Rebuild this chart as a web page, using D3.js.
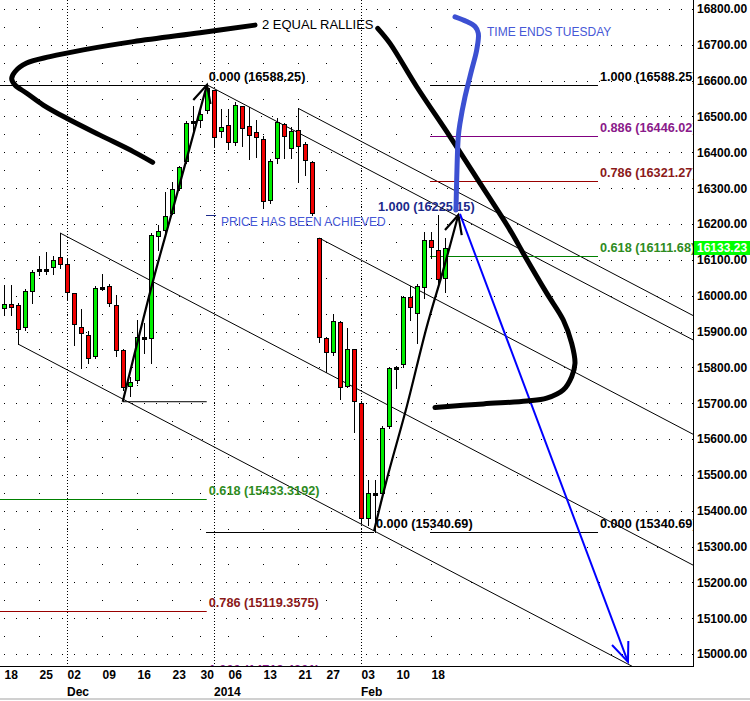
<!DOCTYPE html>
<html><head><meta charset="utf-8">
<script src="https://cdn.jsdelivr.net/npm/d3@7"></script>
<style>
html,body{margin:0;padding:0;background:#fff;}
svg{display:block;}
text{font-family:"Liberation Sans",Arial,sans-serif;}
</style></head><body>
<svg id="c" width="750" height="701"></svg>
<script>
// ---------------- DATA ----------------
const dates = [
 "2013-11-18","2013-11-19","2013-11-20","2013-11-21","2013-11-22","2013-11-25","2013-11-26","2013-11-27","2013-11-29",
 "2013-12-02","2013-12-03","2013-12-04","2013-12-05","2013-12-06","2013-12-09","2013-12-10","2013-12-11","2013-12-12","2013-12-13",
 "2013-12-16","2013-12-17","2013-12-18","2013-12-19","2013-12-20","2013-12-23","2013-12-24","2013-12-26","2013-12-27","2013-12-30","2013-12-31",
 "2014-01-02","2014-01-03","2014-01-06","2014-01-07","2014-01-08","2014-01-09","2014-01-10","2014-01-13","2014-01-14","2014-01-15","2014-01-16","2014-01-17",
 "2014-01-21","2014-01-22","2014-01-23","2014-01-24","2014-01-27","2014-01-28","2014-01-29","2014-01-30","2014-01-31",
 "2014-02-03","2014-02-04","2014-02-05","2014-02-06","2014-02-07","2014-02-10","2014-02-11","2014-02-12","2014-02-13","2014-02-14",
 "2014-02-18","2014-02-19","2014-02-20"];
const opens = [15965,15976,15974,15912,16012,16073,16075,16080,16107,
 16087,16008,15912,15889,15831,16021,16027,15974,15848,15749,
 15764,15885,15881,16167,16183,16232,16301,16376,16487,16490,16518,
 16574,16460,16475,16430,16528,16473,16458,16436,16267,16383,16479,16411,
 16462,16423,16372,16161,15881,15843,15927,15748,15850,
 15700,15379,15445,15448,15635,15798,15808,15997,15951,16023,
 16155,16127,16050];
const highs = [16030,16030,15980,16020,16072,16111,16121,16111,16175,
 16101,16008,15962,15901,16026,16060,16033,16002,15850,15774,
 15932,15924,16176,16197,16290,16318,16362,16488,16529,16520,16588.25,
 16574,16520,16520,16540,16530,16527,16490,16445,16380,16495,16482,16470,
 16523,16430,16375,16161,15885,15949,15930,15909,15852,
 15705,15486,15486,15635,15800,15805,16000,16027,16032,16179,
 16179,16225.15,16160];
const lows = [15946,15946,15865,15905,15980,16057,16060,16060,16078,
 15988,15862,15797,15813,15825,16016,15971,15832,15738,15720,
 15755,15841,15813,16127,16175,16228,16295,16370,16458,16470,16510,
 16418,16442,16408,16420,16418,16382,16388,16244,16260,16370,16385,16385,
 16318,16337,16225,15870,15788,15835,15713,15745,15620,
 15365,15360,15340.69,15443,15630,15741,15800,15932,15867,15993,
 16104,16025,16011];
const closes = [15978,15968,15906,16012,16065,16075,16073,16099,16088,
 16011,15920,15895,15826,16021,16025,15979,15848,15744,15759,
 15885,15881,16169,16180,16222,16297,16358,16483,16481,16507,16579,
 16444,16470,16429,16533,16467,16447,16442,16264,16376,16485,16446,16460,
 16418,16379,16230,15885,15842,15930,15744,15850,15706,
 15379,15448,15450,15630,15797,15802,15997,15967,16027,16155,
 16135,16046,16133.23];

const yTicks = d3.range(15000, 16801, 100);
const tickDates = ["2013-11-18","2013-11-25","2013-12-02","2013-12-09","2013-12-16","2013-12-23","2013-12-30",
 "2014-01-06","2014-01-13","2014-01-21","2014-01-27","2014-02-03","2014-02-10","2014-02-18"];
const tickLabels = ["18","25","02","09","16","23","30","06","13","21","27","03","10","18"];
const monthDates = ["2013-12-02","2014-01-02","2014-02-03"];
const monthLabels = ["Dec","2014","Feb"];
const lastPrice = 16133.23;

// Fibonacci tools
const fibALevels = [16588.25, 15433.3192, 15119.3575, 14719.4301];
const fibALabels = ["0.000 (16588.25)","0.618 (15433.3192)","0.786 (15119.3575)","1.000 (14719.4301)"];
const fibAColors = ["#000000","#2e8b1e","#8b1a1a","#8a1a8a"];
const fibALineColors = ["#000000","#008000","#990000","#800080"];
const fibBLevels = [16588.25, 16446.02, 16321.27, 16111.68, 15340.69];
const fibBLabels = ["1.000 (16588.25)","0.886 (16446.02)","0.786 (16321.27)","0.618 (16111.68)","0.000 (15340.69)"];
const fibBColors = ["#000000","#8a1a8a","#8b1a1a","#2e8b1e","#000000"];
const fibBLineColors = ["#000000","#800080","#990000","#008000","#000000"];
const fibCLevels = [15340.69, 16225.15];
const fibCLabels = ["0.000 (15340.69)","1.000 (16225.15)"];

// Channel lines: [start index, start price], slope in points per trading day
const channelStarts = [[29,16588.25],[42,16523],[45,16161],[8,16175],[2,15865]];
const channelSlope = -10.25;
const channelEnd = 99;

// Hand-drawn annotations, in [trading-day index, price]
const leftCurve = [[21.24,16372],[18.47,16402],[13.71,16448],[8.96,16495],[5.61,16532],[3.24,16565],[1.57,16588],[1.1,16605],[1.57,16625],[3.24,16649],[6.57,16667],[11.33,16686],[18.47,16709],[28,16734],[35.86,16755]];
const rightCurve = [[53.39,16746],[55.14,16704],[58.96,16583],[63.71,16444],[68,16314],[72.29,16183],[74.19,16118],[77.53,16007],[79.9,15932],[81.1,15867],[81.57,15811],[81.1,15774],[79.9,15737],[77.53,15714],[74.67,15706],[68.47,15698],[61.57,15688]];
const blueCurve = [[64.43,16778],[66.1,16765],[67.29,16751],[67.76,16732],[67.53,16686],[66.81,16630],[65.86,16555],[65.14,16481],[64.9,16444],[64.67,16323],[64.57,16239]];
const rally1 = [[16.96,15704],[21.33,16044],[23.96,16230],[26.57,16416],[29,16588.25]];
const rally1Head = [[27.04,16546],[29,16588.25],[29.5,16535]];
const rally1Base = [[16.96,15704],[28.96,15704]];
const rally2 = [[52.86,15343],[54.67,15486],[57.53,15690],[60.39,15913],[62.76,16072],[64.9,16225.15]];
const rally2Head = [[63,16183],[64.9,16225.15],[65.39,16169]];
const projLine = [[65.14,16228],[89.14,14978]];
const projHead = [[86.86,15025],[89.14,14978],[89.19,15036]];

// ---------------- CHART ----------------
const svg = d3.select("#c");
const plotR = 693, plotB = 666;
const x = d3.scaleLinear().domain([0, 99]).range([4, 697]);
const y = d3.scaleLinear().domain([15000, 16800]).range([654, 9]);
const idx = d => dates.indexOf(d);

svg.append("rect").attr("width",750).attr("height",701).attr("fill","#fff");
svg.append("defs").append("clipPath").attr("id","clip")
  .append("rect").attr("x",0).attr("y",0).attr("width",plotR).attr("height",plotB);

const plot = svg.append("g").attr("clip-path","url(#clip)");

// grid dots
const grid = plot.append("g").attr("fill","#000");
yTicks.forEach(v => {
  const yy = Math.round(y(v));
  d3.range(0, 60).forEach(k => {
    const xx = Math.round(x(0) + k*35/3);
    if (xx < plotR) grid.append("rect").attr("x",xx).attr("y",yy).attr("width",1).attr("height",1);
  });
});
d3.range(15050, 16800, 100).forEach(v => {
  const yy = Math.round(y(v));
  tickDates.forEach(d => grid.append("rect").attr("x",Math.round(x(idx(d)))).attr("y",yy).attr("width",1).attr("height",1));
});
monthDates.forEach(d => {
  const xx = Math.round(x(idx(d)));
  d3.range(0, plotB, 3).forEach(yy => grid.append("rect").attr("x",xx).attr("y",yy).attr("width",1).attr("height",1));
});

// channel lines
plot.append("g").selectAll("line").data(channelStarts).join("line")
  .attr("x1",d=>x(d[0])).attr("y1",d=>y(d[1]))
  .attr("x2",x(channelEnd)).attr("y2",d=>y(d[1] + channelSlope*(channelEnd-d[0])))
  .attr("stroke","#000").attr("stroke-width",1);

// Fib A (left)
const fA = plot.append("g");
fibALevels.forEach((v,k) => {
  const yy = Math.round(y(v)) + 0.5;
  fA.append("line").attr("x1",0).attr("x2",x(28.96)).attr("y1",yy).attr("y2",yy)
    .attr("stroke",fibALineColors[k]).attr("stroke-width",1);
  fA.append("text").attr("x",x(29.25)).attr("y",Math.min(y(v)-4, 673.5))
    .attr("fill",fibAColors[k]).attr("font-size","12.7px").attr("font-weight","bold").text(fibALabels[k]);
});
// Fib C
const fC = plot.append("g");
{
  const yy = Math.round(y(fibCLevels[0])) + 0.5;
  fC.append("line").attr("x1",x(28.86)).attr("x2",x(52.86)).attr("y1",yy).attr("y2",yy).attr("stroke","#000");
  fC.append("text").attr("x",x(53.14)).attr("y",y(fibCLevels[0])-4).attr("fill","#000")
    .attr("font-size","12.7px").attr("font-weight","bold").text(fibCLabels[0]);
  const y1 = Math.round(y(fibCLevels[1])) + 0.5;
  fC.append("line").attr("x1",x(28.86)).attr("x2",x(30.29)).attr("y1",y1).attr("y2",y1).attr("stroke","#1c2a8a");
  fC.append("text").attr("x",x(53.43)).attr("y",y(fibCLevels[1])-4).attr("fill","#1c2a8a")
    .attr("font-size","12.7px").attr("font-weight","bold").text(fibCLabels[1]);
}
// Fib B (right)
const fB = plot.append("g");
fibBLevels.forEach((v,k) => {
  const yy = Math.round(y(v)) + 0.5;
  fB.append("line").attr("x1",x(60.86)).attr("x2",x(84.86)).attr("y1",yy).attr("y2",yy)
    .attr("stroke",fibBLineColors[k]).attr("stroke-width",1);
  fB.append("text").attr("x",x(85.14)).attr("y",y(v)-4)
    .attr("fill",fibBColors[k]).attr("font-size","12.7px").attr("font-weight","bold").text(fibBLabels[k]);
});

// candles
const candles = plot.append("g");
dates.forEach((d,k) => {
  const cx = Math.round(x(k));
  const up = closes[k] >= opens[k];
  candles.append("line").attr("x1",cx+0.5).attr("x2",cx+0.5)
    .attr("y1",Math.round(y(highs[k]))).attr("y2",Math.round(y(lows[k]))+1)
    .attr("stroke","#000").attr("stroke-width",1);
  let top = Math.round(y(Math.max(opens[k],closes[k])));
  let bot = Math.round(y(Math.min(opens[k],closes[k])));
  if (bot - top < 2) { bot = top + 2; }
  candles.append("rect").attr("x",cx-2).attr("y",top).attr("width",5).attr("height",bot-top+1).attr("fill","#000");
  if (bot - top >= 3) {
    candles.append("rect").attr("x",cx-1).attr("y",top+1).attr("width",3).attr("height",bot-top-1)
      .attr("fill", up ? "#00ee00" : "#f00000");
  }
});

// annotations
const line = d3.line().x(d=>x(d[0])).y(d=>y(d[1]));
const smooth = d3.line().x(d=>x(d[0])).y(d=>y(d[1])).curve(d3.curveCatmullRom.alpha(0.5));
const ann = plot.append("g").attr("fill","none");
ann.append("path").attr("d",line(rally1Base)).attr("stroke","#000").attr("stroke-width",1);
ann.append("path").attr("d",smooth(rally1)).attr("stroke","#000").attr("stroke-width",2.2);
ann.append("path").attr("d",line(rally1Head)).attr("stroke","#000").attr("stroke-width",2.2);
ann.append("path").attr("d",smooth(rally2)).attr("stroke","#000").attr("stroke-width",2.2);
ann.append("path").attr("d",line(rally2Head)).attr("stroke","#000").attr("stroke-width",2.2);
ann.append("path").attr("d",line(projLine)).attr("stroke","#0000ff").attr("stroke-width",2);
ann.append("path").attr("d",line(projHead)).attr("stroke","#0000ff").attr("stroke-width",2);
ann.append("path").attr("d",smooth(leftCurve)).attr("stroke","#000").attr("stroke-width",5).attr("stroke-linecap","round");
ann.append("path").attr("d",smooth(rightCurve)).attr("stroke","#000").attr("stroke-width",5).attr("stroke-linecap","round");
ann.append("path").attr("d",smooth(blueCurve)).attr("stroke","#3c50d2").attr("stroke-width",5).attr("stroke-linecap","round");

// annotation texts
plot.append("text").attr("x",262).attr("y",28.7).attr("font-size","13px").attr("fill","#000").text("2 EQUAL RALLIES");
plot.append("text").attr("x",487).attr("y",36.3).attr("font-size","12px").attr("fill","#4658d6").text("TIME ENDS TUESDAY");
plot.append("text").attr("x",221).attr("y",226.3).attr("font-size","12px").attr("fill","#4658d6").text("PRICE HAS BEEN ACHIEVED");

// axes
const yAxis = d3.axisRight(y).tickValues(yTicks).tickFormat(d3.format(".2f")).tickSize(0).tickPadding(4);
const gy = svg.append("g").attr("transform",`translate(${plotR},0)`).call(yAxis);
gy.select(".domain").remove();
gy.selectAll("text").attr("font-size","12px").attr("font-weight","bold").attr("fill","#000")
  .attr("font-family","'Liberation Sans',Arial,sans-serif");
svg.append("line").attr("x1",plotR+0.5).attr("x2",plotR+0.5).attr("y1",0).attr("y2",plotB+1).attr("stroke","#000");

const xAxis = d3.axisBottom(x).tickValues(tickDates.map(idx)).tickFormat((d,k)=>tickLabels[k]).tickSize(0).tickPadding(0);
const gx = svg.append("g").attr("transform",`translate(0,${plotB})`).call(xAxis);
gx.select(".domain").remove();
gx.selectAll("text").attr("text-anchor","start").attr("dy",null).attr("y",13.3)
  .attr("font-size","12px").attr("font-weight","bold").attr("fill","#000")
  .attr("font-family","'Liberation Sans',Arial,sans-serif");
svg.append("line").attr("x1",0).attr("x2",plotR+1).attr("y1",plotB+0.5).attr("y2",plotB+0.5).attr("stroke","#000");
svg.append("g").selectAll("text").data(monthDates).join("text")
  .attr("x",d=>x(idx(d))).attr("y",696.3).attr("font-size","12px").attr("font-weight","bold").attr("fill","#000")
  .text((d,k)=>monthLabels[k]);

// last price box
const ly = y(lastPrice);
svg.append("rect").attr("x",plotR+1).attr("y",Math.round(ly)-7).attr("width",57).attr("height",14).attr("fill","#00ff00");
svg.append("text").attr("x",697).attr("y",ly+4.3).attr("font-size","12px").attr("font-weight","bold").attr("fill","#fff")
  .text(d3.format(".2f")(lastPrice));

// bottom border
svg.append("rect").attr("x",0).attr("y",698).attr("width",750).attr("height",2).attr("fill","#d0d0d0");
</script>
</body></html>
